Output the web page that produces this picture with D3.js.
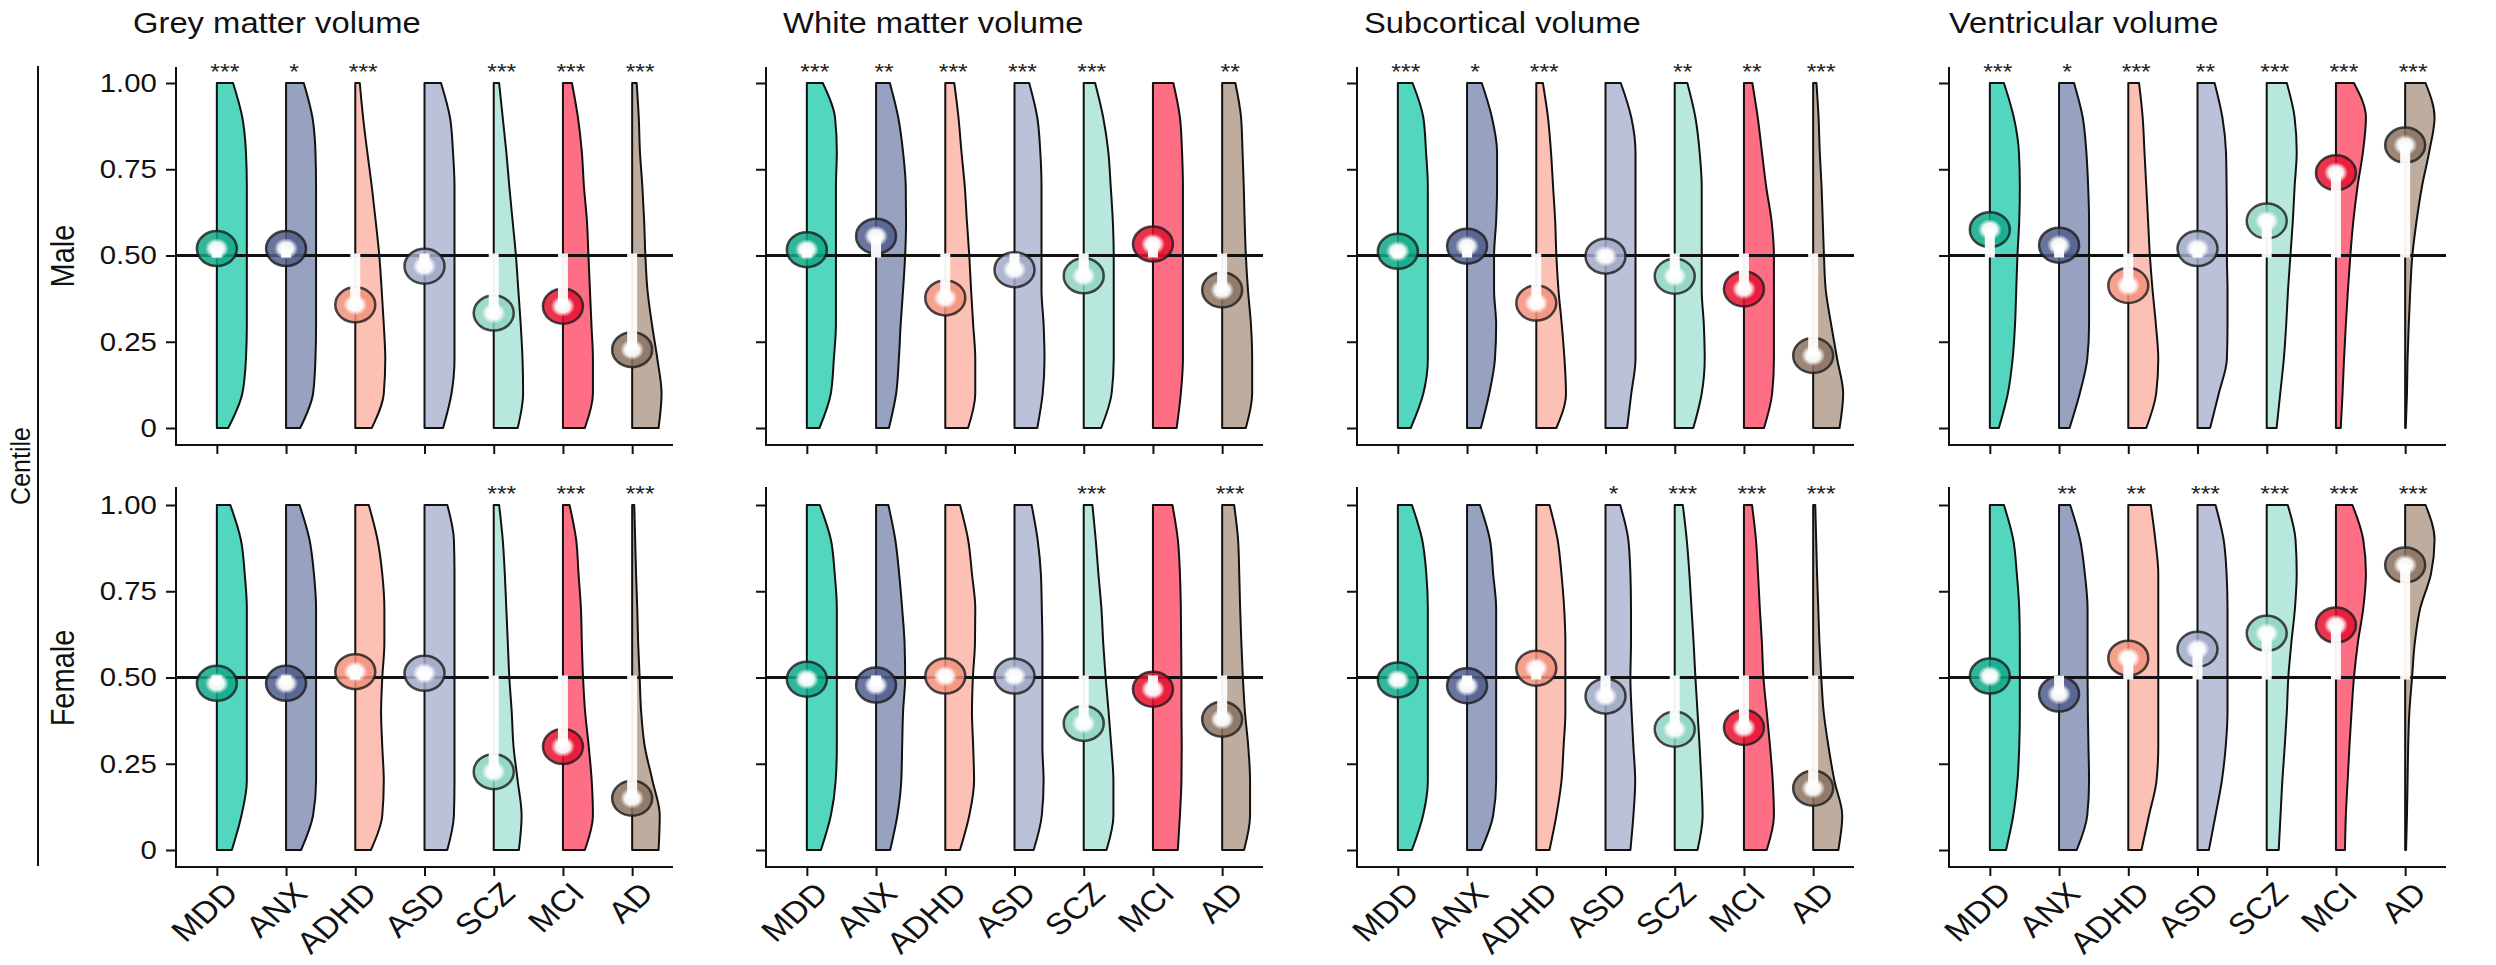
<!DOCTYPE html>
<html>
<head>
<meta charset="utf-8">
<script src="https://cdn.jsdelivr.net/npm/d3@7"></script>
<style>
  html, body { margin: 0; padding: 0; background: #ffffff; }
  svg { display: block; }
</style>
</head>
<body>
<svg id="chart" width="2496" height="965"></svg>
<script>
// ---------------- DATA ----------------
const measures = ["Grey matter volume", "White matter volume", "Subcortical volume", "Ventricular volume"];
const sexes = ["Male", "Female"];
const diagnoses = ["MDD", "ANX", "ADHD", "ASD", "SCZ", "MCI", "AD"];
const yTickValues = [0, 0.25, 0.5, 0.75, 1];
const densityLevels = [0, 0.1, 0.2, 0.3, 0.4, 0.5, 0.6, 0.7, 0.8, 0.9, 1.0];

// Grey matter volume
const gmvMaleDensity = [
  [0.38, 0.85, 0.97, 1, 1, 1, 1, 1, 0.97, 0.85, 0.54],
  [0.47, 0.9, 0.98, 1, 1, 1, 1, 1, 0.98, 0.88, 0.59],
  [0.55, 0.95, 1.0, 0.95, 0.88, 0.8, 0.68, 0.55, 0.4, 0.26, 0.15],
  [0.62, 0.9, 1, 1, 1, 1, 1, 1, 0.95, 0.85, 0.55],
  [0.8, 0.98, 0.96, 0.9, 0.82, 0.74, 0.63, 0.52, 0.42, 0.3, 0.18],
  [0.73, 1, 1, 0.95, 0.9, 0.85, 0.8, 0.7, 0.63, 0.5, 0.3],
  [0.88, 0.98, 0.84, 0.66, 0.51, 0.44, 0.4, 0.34, 0.26, 0.22, 0.15]
];
const gmvMaleMedian = [0.52, 0.52, 0.357, 0.469, 0.333, 0.353, 0.227];
const gmvMaleStars = ["***", "*", "***", "", "***", "***", "***"];

const gmvFemaleDensity = [
  [0.5, 0.82, 1, 1, 1, 1, 1, 1, 0.93, 0.8, 0.45],
  [0.5, 0.9, 1, 1, 1, 1, 1, 1, 0.93, 0.78, 0.45],
  [0.52, 0.9, 0.95, 0.9, 0.86, 0.9, 0.97, 0.97, 0.9, 0.74, 0.45],
  [0.76, 0.98, 1, 1, 1, 1, 1, 1, 1, 0.98, 0.76],
  [0.84, 0.93, 0.8, 0.66, 0.6, 0.52, 0.47, 0.42, 0.37, 0.3, 0.18],
  [0.73, 1, 0.96, 0.86, 0.74, 0.67, 0.63, 0.6, 0.52, 0.44, 0.22],
  [0.88, 0.92, 0.68, 0.42, 0.3, 0.25, 0.2, 0.17, 0.13, 0.1, 0.07]
];
const gmvFemaleMedian = [0.483, 0.483, 0.517, 0.512, 0.227, 0.30, 0.15];
const gmvFemaleStars = ["", "", "", "", "***", "***", "***"];

// White matter volume
const wmvMaleDensity = [
  [0.42, 0.8, 0.9, 0.97, 0.97, 0.97, 0.97, 0.97, 1, 0.94, 0.53],
  [0.43, 0.67, 0.76, 0.82, 0.9, 0.97, 1, 0.99, 0.9, 0.74, 0.46],
  [0.76, 1, 1, 0.93, 0.86, 0.8, 0.72, 0.65, 0.54, 0.44, 0.3],
  [0.76, 0.94, 1, 0.97, 0.9, 0.9, 0.9, 0.9, 0.86, 0.76, 0.49],
  [0.58, 0.93, 1, 1, 1, 1, 0.97, 0.9, 0.82, 0.65, 0.38],
  [0.79, 0.93, 1, 1, 1, 1, 1, 1, 0.97, 0.9, 0.68],
  [0.79, 1, 1, 0.96, 0.86, 0.79, 0.75, 0.72, 0.68, 0.63, 0.44]
];
const wmvMaleMedian = [0.517, 0.556, 0.377, 0.459, 0.441, 0.533, 0.40];
const wmvMaleStars = ["***", "**", "***", "***", "***", "", "**"];

const wmvFemaleDensity = [
  [0.47, 0.8, 0.96, 1, 1, 1, 1, 1, 0.93, 0.8, 0.43],
  [0.47, 0.71, 0.84, 0.87, 0.9, 0.97, 0.95, 0.87, 0.77, 0.64, 0.41],
  [0.49, 0.8, 0.96, 0.93, 0.89, 0.92, 0.99, 1, 0.89, 0.76, 0.49],
  [0.64, 0.91, 0.97, 0.93, 0.93, 0.93, 0.93, 0.91, 0.88, 0.77, 0.57],
  [0.76, 0.99, 0.99, 0.92, 0.83, 0.73, 0.65, 0.59, 0.49, 0.4, 0.29],
  [0.83, 0.9, 0.95, 0.96, 0.95, 0.95, 0.94, 0.93, 0.9, 0.83, 0.65],
  [0.73, 0.93, 0.93, 0.87, 0.76, 0.69, 0.64, 0.6, 0.57, 0.53, 0.4]
];
const wmvFemaleMedian = [0.495, 0.478, 0.504, 0.504, 0.367, 0.466, 0.379];
const wmvFemaleStars = ["", "", "", "", "***", "", "***"];

// Subcortical volume
const scvMaleDensity = [
  [0.43, 0.85, 1, 1, 1, 1, 1, 1, 0.94, 0.85, 0.49],
  [0.46, 0.74, 0.93, 0.97, 0.9, 0.9, 0.97, 1, 1, 0.83, 0.49],
  [0.67, 0.99, 0.94, 0.85, 0.74, 0.67, 0.63, 0.56, 0.49, 0.39, 0.22],
  [0.72, 0.86, 1, 1, 1, 1, 1, 1, 1, 0.86, 0.51],
  [0.62, 0.9, 1, 0.97, 0.9, 0.9, 0.9, 0.9, 0.83, 0.69, 0.42],
  [0.67, 0.94, 1, 1, 1, 1, 0.92, 0.74, 0.6, 0.46, 0.28],
  [0.88, 1, 0.8, 0.6, 0.42, 0.36, 0.32, 0.28, 0.22, 0.18, 0.11]
];
const scvMaleMedian = [0.512, 0.527, 0.362, 0.498, 0.44, 0.403, 0.21];
const scvMaleStars = ["***", "*", "***", "", "**", "**", "***"];

const scvFemaleDensity = [
  [0.47, 0.84, 1, 1, 1, 1, 1, 1, 0.95, 0.81, 0.47],
  [0.47, 0.87, 0.97, 0.97, 0.97, 0.97, 0.97, 0.97, 0.87, 0.76, 0.43],
  [0.44, 0.67, 0.84, 0.91, 0.97, 0.97, 0.97, 0.93, 0.84, 0.71, 0.44],
  [0.83, 0.93, 0.99, 0.93, 0.87, 0.83, 0.85, 0.85, 0.83, 0.76, 0.49],
  [0.76, 0.93, 0.89, 0.83, 0.76, 0.69, 0.63, 0.56, 0.49, 0.4, 0.27],
  [0.76, 1, 0.96, 0.87, 0.76, 0.65, 0.6, 0.53, 0.47, 0.4, 0.27],
  [0.84, 0.97, 0.71, 0.51, 0.35, 0.27, 0.21, 0.17, 0.13, 0.1, 0.07]
];
const scvFemaleMedian = [0.493, 0.476, 0.527, 0.446, 0.35, 0.355, 0.179];
const scvFemaleStars = ["", "", "", "*", "***", "***", "***"];

// Ventricular volume
const vvMaleDensity = [
  [0.3, 0.6, 0.76, 0.84, 0.88, 0.92, 0.98, 1, 0.97, 0.8, 0.47],
  [0.35, 0.69, 0.94, 1, 1, 1, 1, 0.97, 0.91, 0.79, 0.5],
  [0.6, 0.93, 1, 0.92, 0.81, 0.72, 0.66, 0.6, 0.54, 0.48, 0.36],
  [0.42, 0.71, 0.98, 1, 1, 0.98, 0.98, 0.97, 0.95, 0.83, 0.57],
  [0.33, 0.45, 0.57, 0.65, 0.71, 0.79, 0.87, 0.93, 1, 0.93, 0.67],
  [0.16, 0.22, 0.27, 0.33, 0.4, 0.48, 0.58, 0.72, 0.9, 1, 0.6],
  [0.02, 0.06, 0.08, 0.12, 0.17, 0.24, 0.38, 0.56, 0.8, 0.98, 0.68]
];
const vvMaleMedian = [0.575, 0.53, 0.413, 0.52, 0.60, 0.74, 0.82];
const vvMaleStars = ["***", "*", "***", "**", "***", "***", "***"];

const vvFemaleDensity = [
  [0.54, 0.78, 0.92, 0.98, 1, 1, 1, 0.98, 0.9, 0.78, 0.47],
  [0.59, 0.94, 1, 0.98, 0.96, 0.95, 0.95, 0.95, 0.86, 0.7, 0.37],
  [0.44, 0.69, 0.94, 1, 1, 1, 1, 1, 1, 0.9, 0.75],
  [0.38, 0.6, 0.81, 0.94, 1, 1, 1, 1, 0.97, 0.87, 0.6],
  [0.4, 0.46, 0.52, 0.6, 0.67, 0.72, 0.82, 0.94, 1, 0.96, 0.7],
  [0.3, 0.33, 0.39, 0.45, 0.52, 0.6, 0.73, 0.91, 1, 0.91, 0.55],
  [0.03, 0.06, 0.08, 0.1, 0.14, 0.23, 0.32, 0.5, 0.86, 0.98, 0.68]
];
const vvFemaleMedian = [0.504, 0.452, 0.556, 0.582, 0.628, 0.652, 0.826];
const vvFemaleStars = ["", "**", "**", "***", "***", "***", "***"];

// ---------------- STYLE ----------------
const violinColors = ["#52d6bd", "#97a2c0", "#fdc0b4", "#bbc1d8", "#b8e7dd", "#fe6e85", "#bead9f"];
const markerColors = ["#0fa888", "#4f5d8c", "#f2907b", "#a1a9c7", "#8dd4c2", "#e5102f", "#8a715f"];

// table assembled from the named arrays
const panelTable = [
  [{dens: gmvMaleDensity, med: gmvMaleMedian, stars: gmvMaleStars}, {dens: gmvFemaleDensity, med: gmvFemaleMedian, stars: gmvFemaleStars}],
  [{dens: wmvMaleDensity, med: wmvMaleMedian, stars: wmvMaleStars}, {dens: wmvFemaleDensity, med: wmvFemaleMedian, stars: wmvFemaleStars}],
  [{dens: scvMaleDensity, med: scvMaleMedian, stars: scvMaleStars}, {dens: scvFemaleDensity, med: scvFemaleMedian, stars: scvFemaleStars}],
  [{dens: vvMaleDensity, med: vvMaleMedian, stars: vvMaleStars}, {dens: vvFemaleDensity, med: vvFemaleMedian, stars: vvFemaleStars}]
];

// ---------------- LAYOUT ----------------
const SX = 1.13; // horizontal stretch of the original figure's text
const FONT = "'Liberation Sans', Arial, Helvetica, sans-serif";
const panelX = [176, 766, 1357, 1949];
const titleX = [133, 783, 1364, 1949];
const plotW = 497;
const rows = [
  {top: 83, bottom: 428, axisTop: 67, axisY: 445, starY: 79, labelY: 256},
  {top: 505, bottom: 850, axisTop: 487, axisY: 867, starY: 501, labelY: 678}
];
const ink = "#111";

const svg = d3.select("#chart");
svg.append("rect").attr("width", 2496).attr("height", 965).attr("fill", "#fff");

const defs = svg.append("defs");
const grad = defs.append("radialGradient").attr("id", "hl");
grad.append("stop").attr("offset", "0%").attr("stop-color", "#fff").attr("stop-opacity", 1);
grad.append("stop").attr("offset", "60%").attr("stop-color", "#fff").attr("stop-opacity", 0.92);
grad.append("stop").attr("offset", "100%").attr("stop-color", "#fff").attr("stop-opacity", 0);

// left bracket and row labels
svg.append("line").attr("x1", 38).attr("x2", 38).attr("y1", 66).attr("y2", 866)
  .attr("stroke", ink).attr("stroke-width", 2);
svg.append("text")
  .attr("transform", `translate(20,466) scale(${SX},1) rotate(-90)`)
  .attr("text-anchor", "middle").attr("dy", "0.36em")
  .attr("font-family", FONT).attr("font-size", 25).attr("fill", ink)
  .text("Centile");
sexes.forEach((s, si) => {
  svg.append("text")
    .attr("transform", `translate(62,${rows[si].labelY}) scale(${SX},1) rotate(-90)`)
    .attr("text-anchor", "middle").attr("dy", "0.36em")
    .attr("font-family", FONT).attr("font-size", 29).attr("fill", ink)
    .text(s);
});

const wScale = d3.scaleLinear().domain([0, 1]).range([0, 30]);
const fmt = d => d === 0 ? "0" : d3.format(".2f")(d);

measures.forEach((m, mi) => {
  const x0 = panelX[mi];
  const x = d3.scalePoint().domain(diagnoses).range([x0, x0 + plotW]).padding(0.59);

  svg.append("text")
    .attr("transform", `translate(${titleX[mi]},33) scale(${SX},1)`)
    .attr("font-family", FONT).attr("font-size", 29).attr("fill", ink)
    .text(m);

  sexes.forEach((s, si) => {
    const r = rows[si];
    const cell = panelTable[mi][si];
    const y = d3.scaleLinear().domain([0, 1]).range([r.bottom, r.top]);
    const g = svg.append("g");

    // y axis
    const yAxis = d3.axisLeft(y).tickValues(yTickValues).tickSize(10).tickPadding(7)
      .tickFormat(mi === 0 ? fmt : () => "");
    const ga = g.append("g").attr("transform", `translate(${x0},0)`).call(yAxis);
    ga.select(".domain").remove();
    ga.selectAll(".tick line").attr("stroke", ink).attr("stroke-width", 2);
    ga.selectAll(".tick text").attr("font-size", 26).attr("font-family", FONT)
      .attr("fill", ink).attr("transform", `scale(${SX},1)`);
    g.append("line").attr("x1", x0).attr("x2", x0).attr("y1", r.axisTop).attr("y2", r.axisY + 1)
      .attr("stroke", ink).attr("stroke-width", 2);

    // x axis
    const xAxis = d3.axisBottom(x).tickSize(9).tickFormat(() => "");
    const gx = g.append("g").attr("transform", `translate(0,${r.axisY})`).call(xAxis);
    gx.select(".domain").remove();
    gx.selectAll(".tick line").attr("stroke", ink).attr("stroke-width", 2);
    g.append("line").attr("x1", x0 - 1).attr("x2", x0 + plotW).attr("y1", r.axisY).attr("y2", r.axisY)
      .attr("stroke", ink).attr("stroke-width", 2);

    // half violins
    diagnoses.forEach((d, i) => {
      const cx = x(d);
      const pts = densityLevels.map((c, k) => ({c: c, w: cell.dens[i][k]}));
      const area = d3.area()
        .y(p => y(p.c))
        .x0(cx)
        .x1(p => cx + wScale(p.w))
        .curve(d3.curveMonotoneY);
      g.append("path").attr("d", area(pts))
        .attr("fill", violinColors[i]).attr("stroke", ink).attr("stroke-width", 2)
        .attr("stroke-linejoin", "round");
    });

    // reference line at the 50th centile
    g.append("line").attr("x1", x0).attr("x2", x0 + plotW).attr("y1", y(0.5)).attr("y2", y(0.5))
      .attr("stroke", ink).attr("stroke-width", 3);

    // markers
    diagnoses.forEach((d, i) => {
      const cx = x(d);
      const v = cell.med[i];
      const cy = y(v);
      g.append("ellipse").attr("cx", cx).attr("cy", cy).attr("rx", 20).attr("ry", 17.5)
        .attr("fill", markerColors[i]).attr("fill-opacity", 0.85)
        .attr("stroke", "#1b1b1b").attr("stroke-opacity", 0.8).attr("stroke-width", 2.5);
      const y50 = y(0.5);
      const top = Math.min(y50, cy), bot = Math.max(y50, cy);
      g.append("rect").attr("x", cx - 5).attr("width", 10)
        .attr("y", cy < y50 ? cy : y50 - 2)
        .attr("height", (bot - top) + 2)
        .attr("fill", "#fff").attr("fill-opacity", 0.95);
      g.append("ellipse").attr("cx", cx).attr("cy", cy).attr("rx", 12).attr("ry", 10.5)
        .attr("fill", "url(#hl)");
    });

    // significance stars
    diagnoses.forEach((d, i) => {
      if (!cell.stars[i]) return;
      g.append("text")
        .attr("transform", `translate(${x(d) + 8},${r.starY}) scale(${SX},1)`)
        .attr("text-anchor", "middle")
        .attr("font-family", FONT).attr("font-size", 22).attr("fill", "#222")
        .text(cell.stars[i]);
    });

    // category labels (bottom row only)
    if (si === 1) {
      diagnoses.forEach(d => {
        g.append("text")
          .attr("transform", `translate(${x(d) + 6},${r.axisY + 13}) scale(${SX},1) rotate(-45)`)
          .attr("text-anchor", "end").attr("dy", "0.72em")
          .attr("font-family", FONT).attr("font-size", 30).attr("fill", ink)
          .text(d);
      });
    }
  });
});
</script>
</body>
</html>
